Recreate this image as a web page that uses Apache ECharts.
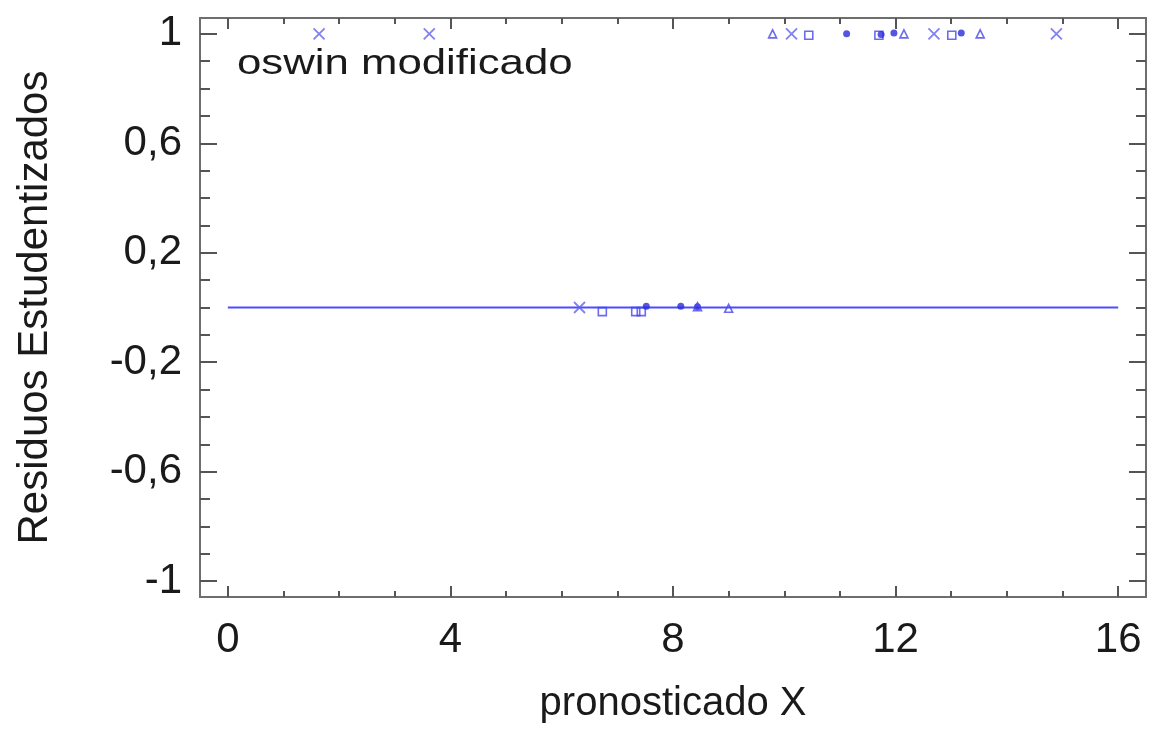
<!DOCTYPE html>
<html>
<head>
    <meta charset="utf-8">
    <title>oswin modificado</title>
    <script src="https://cdn.jsdelivr.net/npm/echarts@6.0.0/dist/echarts.min.js"></script>
    <style>
        html, body { margin: 0; padding: 0; background: #fff; }
        #chart { width: 1155px; height: 729px; }
    </style>
</head>
<body>
    <div id="chart"></div>
    <script>
        // puntos
        var crossX = [1.64, 3.62, 10.13, 12.69, 14.89, 6.32];
        var crossY = [1, 1, 1, 1, 1, 0];
        var squareX = [10.44, 11.70, 13.01, 6.73, 7.33, 7.43];
        var squareY = [0.995, 0.995, 0.995, -0.015, -0.015, -0.015];
        var dotX = [11.12, 11.97, 13.18, 11.74, 7.52, 8.14, 8.44];
        var dotY = [1, 1.003, 1.003, 0.998, 0.005, 0.005, 0.003];
        var triX = [9.79, 12.15, 13.52, 8.44, 9.0];
        var triY = [1, 1, 1, 0.003, -0.003];
        var refLineX = [0, 16];
        var refLineY = [0, 0];

        // marcas de los ejes
        var xMajor = [0, 4, 8, 12, 16];
        var xMinor = [1, 2, 3, 5, 6, 7, 9, 10, 11, 13, 14, 15];
        var yMajor = [-1, -0.6, -0.2, 0.2, 0.6, 1];
        var yMinor = [-0.9, -0.8, -0.7, -0.5, -0.4, -0.3, -0.1, 0, 0.1, 0.3, 0.4, 0.5, 0.7, 0.8, 0.9];

        function pairs(xs, ys) {
            var out = [];
            for (var i = 0; i < xs.length; i++) out.push([xs[i], ys[i]]);
            return out;
        }

        var blue = '#4646e8';
        var boxColor = '#6e6e6e';
        var font = '"Liberation Sans", Arial, sans-serif';

        function xAxisOf(pos, ticks, len, withLine, withLabel) {
            return {
                type: 'value', position: pos, min: -0.5, max: 16.5,
                axisLine: { show: withLine, onZero: false, lineStyle: { color: boxColor, width: 2 } },
                axisTick: { show: true, inside: true, length: len, customValues: ticks, lineStyle: { color: '#555', width: 2 } },
                axisLabel: withLabel ? { customValues: ticks, fontSize: 42, fontFamily: font, color: '#1a1a1a', margin: 22 } : { show: false },
                splitLine: { show: false },
                name: withLabel ? 'pronosticado X' : '',
                nameLocation: 'middle', nameGap: 87,
                nameTextStyle: { fontSize: 40, fontFamily: font, color: '#1a1a1a' }
            };
        }

        function yAxisOf(pos, ticks, len, withLine, withLabel) {
            return {
                type: 'value', position: pos, min: -1.058, max: 1.058,
                axisLine: { show: withLine, onZero: false, lineStyle: { color: boxColor, width: 2 } },
                axisTick: { show: true, inside: true, length: len, customValues: ticks, lineStyle: { color: '#555', width: 2 } },
                axisLabel: withLabel ? {
                    customValues: ticks, fontSize: 42, fontFamily: font, color: '#1a1a1a', margin: 18,
                    formatter: function (v) { return String(v).replace('.', ','); }
                } : { show: false },
                splitLine: { show: false },
                name: withLabel ? 'Residuos Estudentizados' : '',
                nameLocation: 'middle', nameGap: 144,
                nameTextStyle: { fontSize: 42, fontFamily: font, color: '#1a1a1a' }
            };
        }

        var chart = echarts.init(document.getElementById('chart'));
        var option = {
            animation: false,
            backgroundColor: '#fff',
            grid: { left: 200, right: 9, top: 18, bottom: 132 },
            xAxis: [
                xAxisOf('bottom', xMajor, 11, true, true),
                xAxisOf('bottom', xMinor, 6, false, false),
                xAxisOf('top', xMajor, 11, true, false),
                xAxisOf('top', xMinor, 6, false, false)
            ],
            yAxis: [
                yAxisOf('left', yMajor, 17, true, true),
                yAxisOf('left', yMinor, 10, false, false),
                yAxisOf('right', yMajor, 17, true, false),
                yAxisOf('right', yMinor, 10, false, false)
            ],
            graphic: [{
                type: 'text', x: 237, y: 47, scaleX: 1.25,
                style: { text: 'oswin modificado', fontSize: 35, fontFamily: font, fill: '#1a1a1a', verticalAlign: 'top' }
            }],
            series: [
                {
                    type: 'line', data: pairs(refLineX, refLineY), symbol: 'none',
                    lineStyle: { color: '#4d4dff', width: 2 }, z: 1
                },
                {
                    type: 'scatter', data: pairs(crossX, crossY),
                    symbol: 'path://M0,0L10,10M10,0L0,10', symbolSize: 11,
                    itemStyle: { color: 'transparent', borderColor: '#6262ee', borderWidth: 1.8 }
                },
                {
                    type: 'scatter', data: pairs(squareX, squareY), symbol: 'rect', symbolSize: 8,
                    itemStyle: { color: 'transparent', borderColor: blue, borderWidth: 1.6 }
                },
                {
                    type: 'scatter', data: pairs(dotX, dotY), symbol: 'circle', symbolSize: 7,
                    itemStyle: { color: '#2a2ad8' }
                },
                {
                    type: 'scatter', data: pairs(triX, triY), symbol: 'triangle', symbolSize: 8,
                    itemStyle: { color: 'transparent', borderColor: blue, borderWidth: 1.6 }
                }
            ]
        };
        chart.setOption(option);
    </script>
</body>
</html>
